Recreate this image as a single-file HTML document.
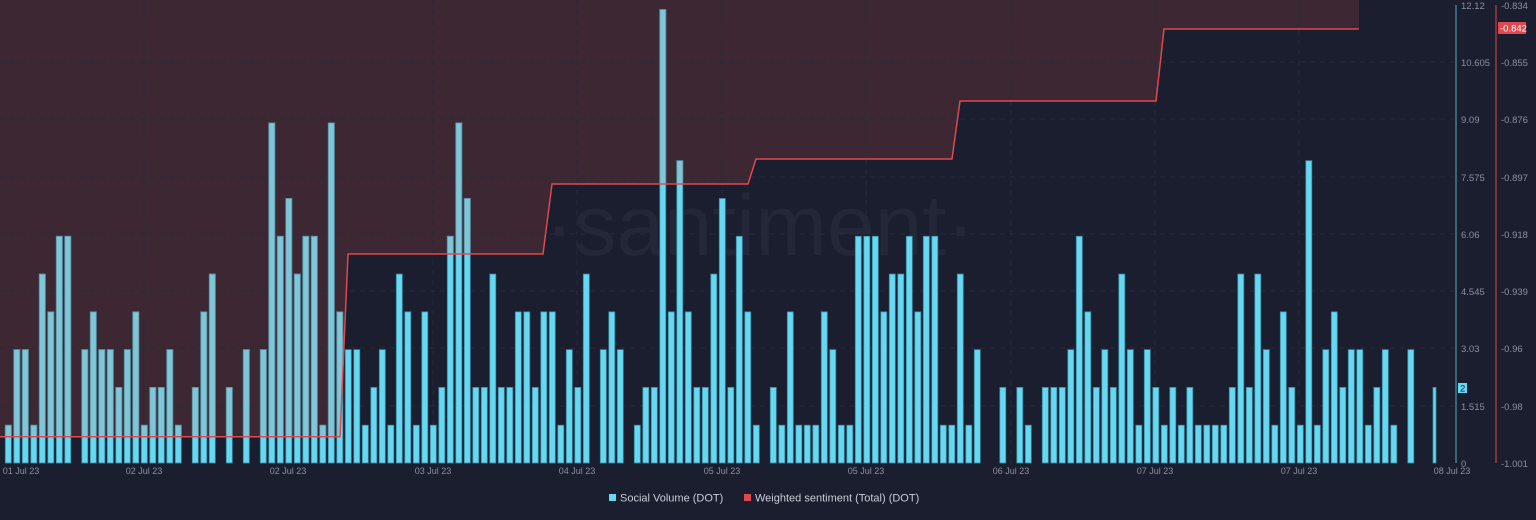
<!DOCTYPE html>
<html><head><meta charset="utf-8"><style>
html,body{margin:0;padding:0;background:#1b1e2e;}
svg{display:block;font-family:"Liberation Sans",sans-serif;}
</style></head><body>
<svg id="s" width="1536" height="520" xmlns="http://www.w3.org/2000/svg">
<defs>
<clipPath id="red"><polygon points="0,0 0,436.7 340,436.7 348,254 543,254 552,184 748,184 756,159 952,159 960,101 1156,101 1164,29 1359,29 1359,0"/></clipPath>
</defs>
<rect width="1536" height="520" fill="#1b1e2e"/>
<polygon points="0,0 0,436.7 340,436.7 348,254 543,254 552,184 748,184 756,159 952,159 960,101 1156,101 1164,29 1359,29 1359,0" fill="#3c2733"/>
<g stroke="#272b3b" stroke-dasharray="5,5" stroke-width="1">
<line x1="0" y1="62" x2="1455" y2="62"/><line x1="0" y1="119" x2="1455" y2="119"/><line x1="0" y1="177" x2="1455" y2="177"/><line x1="0" y1="234" x2="1455" y2="234"/><line x1="0" y1="291" x2="1455" y2="291"/><line x1="0" y1="348" x2="1455" y2="348"/><line x1="0" y1="406" x2="1455" y2="406"/>
<line x1="144" y1="0" x2="144" y2="463"/><line x1="433" y1="0" x2="433" y2="463"/><line x1="577" y1="0" x2="577" y2="463"/><line x1="722" y1="0" x2="722" y2="463"/><line x1="866" y1="0" x2="866" y2="463"/><line x1="1011" y1="0" x2="1011" y2="463"/><line x1="1155" y1="0" x2="1155" y2="463"/><line x1="1299" y1="0" x2="1299" y2="463"/>
</g>
<text x="760" y="255" font-size="86" fill="#232737" text-anchor="middle">·santiment·</text>
<g id="bars"></g>
<g id="bars2" clip-path="url(#red)"></g>
<polyline points="0,436.7 340,436.7 348,254 543,254 552,184 748,184 756,159 952,159 960,101 1156,101 1164,29 1359,29" fill="none" stroke="#e0484f" stroke-width="1.5"/>
<line x1="1456" y1="5" x2="1456" y2="463" stroke="#3e7f92" stroke-width="1.5"/>
<line x1="1496" y1="5" x2="1496" y2="463" stroke="#a23a40" stroke-width="1.5"/>
<g font-size="9.5" fill="#8a90a0">
<text x="1461" y="9">12.12</text><text x="1461" y="66">10.605</text><text x="1461" y="123">9.09</text><text x="1461" y="181">7.575</text><text x="1461" y="238">6.06</text><text x="1461" y="295">4.545</text><text x="1461" y="352">3.03</text><text x="1461" y="410">1.515</text><text x="1461" y="467">0</text>
<text x="1501" y="9">-0.834</text><text x="1501" y="66">-0.855</text><text x="1501" y="123">-0.876</text><text x="1501" y="181">-0.897</text><text x="1501" y="238">-0.918</text><text x="1501" y="295">-0.939</text><text x="1501" y="352">-0.96</text><text x="1501" y="410">-0.98</text><text x="1501" y="467">-1.001</text>
</g>
<rect x="1498" y="22" width="28" height="12" fill="#e0484f"/>
<text x="1500" y="31.5" font-size="9.5" fill="#fff">-0.842</text>
<rect x="1458" y="383" width="9" height="10" fill="#66d8f2"/>
<text x="1460" y="391.5" font-size="9.5" fill="#1b1e2e">2</text>
<g font-size="9" fill="#8a90a0" text-anchor="middle">
<text x="21" y="474">01 Jul 23</text><text x="144" y="474">02 Jul 23</text><text x="288" y="474">02 Jul 23</text><text x="433" y="474">03 Jul 23</text><text x="577" y="474">04 Jul 23</text><text x="722" y="474">05 Jul 23</text><text x="866" y="474">05 Jul 23</text><text x="1011" y="474">06 Jul 23</text><text x="1155" y="474">07 Jul 23</text><text x="1299" y="474">07 Jul 23</text><text x="1452" y="474">08 Jul 23</text>
</g>
<rect x="609" y="494" width="7" height="7" fill="#66d8f2"/>
<text x="620" y="501.5" font-size="11" fill="#c8ccd8">Social Volume (DOT)</text>
<rect x="744" y="494" width="7" height="7" fill="#e0484f"/>
<text x="755" y="501.5" font-size="11" fill="#c8ccd8">Weighted sentiment (Total) (DOT)</text>
</svg>
<script>
var h=[1,3,3,1,5,4,6,6,0,3,4,3,3,2,3,4,1,2,2,3,1,0,2,4,5,0,2,0,3,
0,3,9,6,7,5,6,6,1,9,4,3,3,1,2,3,1,5,4,1,4,1,2,6,9,7,2,2,
5,2,2,4,4,2,4,4,1,3,2,5,0,3,4,3,0,1,2,2,12,4,8,4,2,2,5,7,2,
6,4,1,0,2,1,4,1,1,1,4,3,1,1,6,6,6,4,5,5,6,4,6,6,1,1,5,1,
3,0,0,2,0,2,1,0,2,2,2,3,6,4,2,3,2,5,3,1,3,2,1,2,1,2,1,1,
1,1,2,5,2,5,3,1,4,2,1,8,1,3,4,2,3,3,1,2,3,1,0,3,0,0];
var ns="http://www.w3.org/2000/svg",b=document.getElementById("bars"),b2=document.getElementById("bars2");
function add(g,x,w,v,f,s){if(!v)return;var r=document.createElementNS(ns,"rect");var hh=v*37.79;r.setAttribute("x",x);r.setAttribute("y",463-hh);r.setAttribute("width",w);r.setAttribute("height",hh);r.setAttribute("fill",f);r.setAttribute("stroke",s);r.setAttribute("stroke-width","0.8");g.appendChild(r);}
for(var i=0;i<h.length;i++){var x=8.3+i*8.5-3;add(b,x,6,h[i],"#66d8f2","#3a8ca2");add(b2,x,6,h[i],"#80c6d9","#5b8fa0");}
add(b,1433,3,2,"#66d8f2","#3a8ca2");
</script>
</body></html>
